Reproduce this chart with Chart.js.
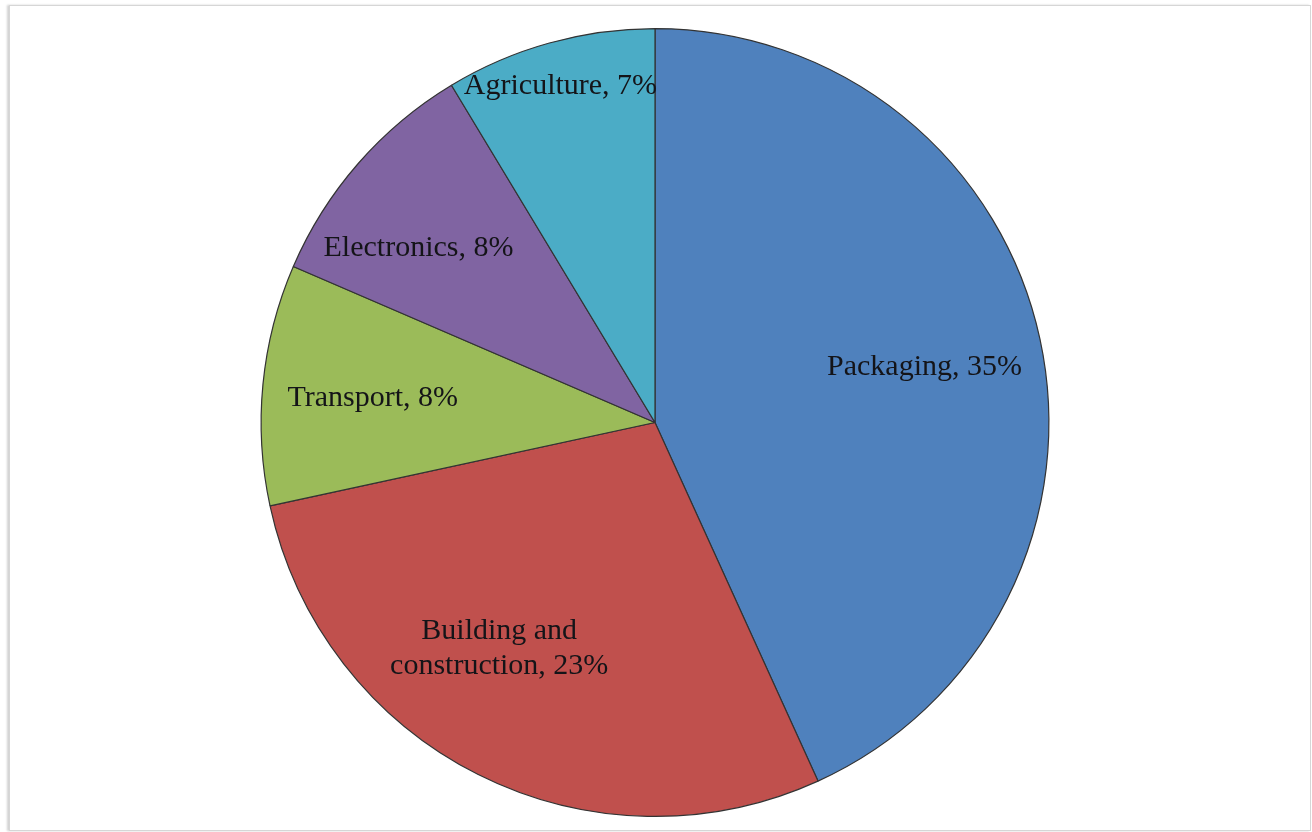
<!DOCTYPE html>
<html>
<head>
<meta charset="utf-8">
<script src="https://cdn.jsdelivr.net/npm/chart.js@4"></script>
<style>
    html, body { margin: 0; padding: 0; background: #ffffff; }
    .frame {
        position: absolute;
        left: 9px; top: 5px;
        width: 1300px; height: 824px;
        border: 1px solid #d6d6d6;
        box-shadow: -2px 0 2px rgba(0,0,0,0.18);
        background: #ffffff;
    }
    .wrap { position: absolute; left: 0; top: 0; width: 1312px; height: 832px; }
</style>
</head>
<body>
<div class="frame"></div>
<div class="wrap"><canvas id="pie" width="1312" height="832"></canvas></div>
<script>
// 용도별 비율
const categories = ['Packaging', 'Building and construction', 'Transport', 'Electronics', 'Agriculture'];
const shares = [35, 23, 8, 8, 7];
const sliceColors = ['#4F81BD', '#C0504D', '#9BBB59', '#8064A2', '#4BACC6'];

// 라벨 줄바꿈
const labelLines = [
    ['Packaging, 35%'],
    ['Building and', 'construction, 23%'],
    ['Transport, 8%'],
    ['Electronics, 8%'],
    ['Agriculture, 7%']
];
// 라벨 위치 (반지름 비율, 각도 보정)
const labelRadius = [0.70, 0.69, 0.72, 0.75, 0.895];
const labelShift = [0, 0.145, 0, -0.075, 0];

// 조각 안쪽에 라벨 그리기
const sliceLabels = {
    id: 'sliceLabels',
    afterDatasetsDraw(chart) {
        const ctx = chart.ctx;
        const meta = chart.getDatasetMeta(0);
        ctx.save();
        ctx.font = '30px "Liberation Serif", "Times New Roman", serif';
        ctx.fillStyle = '#141418';
        ctx.textAlign = 'center';
        ctx.textBaseline = 'middle';
        meta.data.forEach((arc, i) => {
            const mid = (arc.startAngle + arc.endAngle) / 2 + labelShift[i];
            const r = arc.outerRadius * labelRadius[i];
            const x = arc.x + Math.cos(mid) * r;
            const y = arc.y + Math.sin(mid) * r + 3;
            const lines = labelLines[i];
            const lh = 35;
            lines.forEach((line, j) => {
                ctx.fillText(line, x, y + (j - (lines.length - 1) / 2) * lh);
            });
        });
        ctx.restore();
    }
};

new Chart(document.getElementById('pie'), {
    type: 'pie',
    data: {
        labels: categories,
        datasets: [{
            data: shares,
            backgroundColor: sliceColors,
            borderColor: '#333333',
            borderWidth: 1.2
        }]
    },
    options: {
        responsive: false,
        animation: false,
        layout: { padding: { top: 28, bottom: 15, left: 0, right: 2 } },
        plugins: {
            legend: { display: false },
            tooltip: { enabled: false }
        }
    },
    plugins: [sliceLabels]
});
</script>
</body>
</html>
